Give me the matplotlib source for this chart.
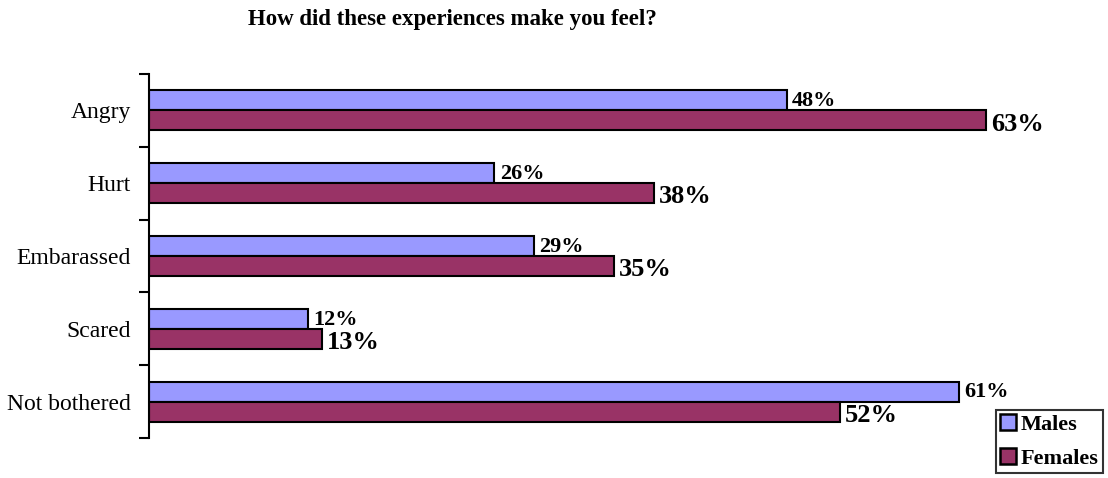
import matplotlib.pyplot as plt
import numpy as np

categories = ['Angry', 'Hurt', 'Embarassed', 'Scared', 'Not bothered']
males = [48, 26, 29, 12, 61]
females = [63, 38, 35, 13, 52]

plt.rcParams['font.family'] = ['Liberation Serif', 'DejaVu Serif']

fig = plt.figure(figsize=(11.08, 4.78), dpi=100)
ax = fig.add_axes([149 / 1108, 1 - 438 / 478, 930 / 1108, 364 / 478])

y = np.arange(len(categories))
h = 0.274
ax.barh(y - h / 2, males, h, color='#9999FF', edgecolor='black', lw=1.5, label='Males')
ax.barh(y + h / 2, females, h, color='#993366', edgecolor='black', lw=1.5, label='Females')

for i in range(len(categories)):
    ax.text(males[i] + 0.4, y[i] - h / 2 + 0.01, f'{males[i]}%', va='center', ha='left',
            fontsize=16, fontweight='bold')
    ax.text(females[i] + 0.4, y[i] + h / 2 + 0.05, f'{females[i]}%', va='center', ha='left',
            fontsize=19, fontweight='bold')

ax.set_xlim(0, 70)
ax.set_ylim(len(categories) - 0.5, -0.5)
ax.set_yticks(y)
ax.set_yticklabels(categories, fontsize=17)
ax.tick_params(axis='y', which='major', length=0, pad=13)
ax.set_yticks(np.arange(len(categories) + 1) - 0.5, minor=True)
ax.tick_params(axis='y', which='minor', length=7, width=1.5, direction='out')
ax.set_xticks([])
for s in ['top', 'right', 'bottom']:
    ax.spines[s].set_visible(False)
ax.spines['left'].set_linewidth(1.5)

fig.text(452 / 1108, 1 - 19 / 478, 'How did these experiences make you feel?', ha='center', va='center',
         fontsize=16.5, fontweight='bold')

leg = fig.legend(loc='upper left', bbox_to_anchor=(996 / 1108, 1 - 410 / 478), frameon=True,
                 fancybox=False, edgecolor='black', prop={'weight': 'bold', 'size': 16},
                 handlelength=0.7, handleheight=0.7, handletextpad=0.2, borderpad=0.2,
                 labelspacing=0.6, borderaxespad=0)
leg.get_frame().set_linewidth(1.5)
for p in leg.get_patches():
    p.set_linewidth(1.8)

plt.savefig('out.png')
